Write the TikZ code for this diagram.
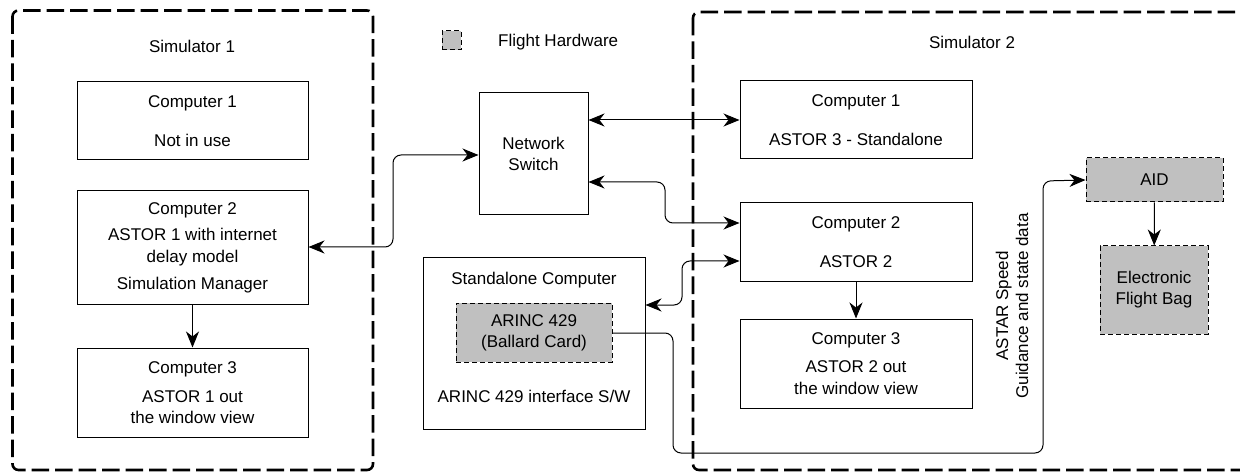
\documentclass[tikz,border=0pt]{standalone}
\usepackage{fontspec}
\setmainfont{Liberation Sans}
\usetikzlibrary{arrows.meta}
\definecolor{hwgray}{HTML}{C0C0C0}
\tikzset{
  box/.style={draw, line width=1pt, inner sep=0pt, align=center, font=\fontsize{17}{21}\selectfont},
  hw/.style={box, fill=hwgray, dash pattern=on 5pt off 3pt},
  sim/.style={draw, line width=2.6pt, dash pattern=on 17.5pt off 6pt, rounded corners=6pt},
  lbl/.style={inner sep=0pt, align=center, font=\fontsize{17}{21}\selectfont},
  conn/.style={line width=1pt, rounded corners=8pt},
  tip/.tip={Stealth[length=16pt,width=13pt,inset=5pt]},
}
\begin{document}
\begin{tikzpicture}[x=1pt,y=-1pt]
\useasboundingbox (0,0) rectangle (1240,473);
\clip (0,0) rectangle (1240,473);
% simulator frames
\draw[sim] (12.5,10.5) rectangle (373,470);
\draw[sim] (693,12) rectangle (1265,470);
\node[lbl] (s1lbl) at (192,46) {Simulator 1};
\node[lbl] (s2lbl) at (972,42) {Simulator 2};
% legend
\node[hw, minimum width=19pt, minimum height=19pt] (leg) at (451.5,40.5) {};
\node[lbl, anchor=west] (legt) at (498,42) {Flight Hardware};
% simulator 1
\node[box, minimum width=231pt, minimum height=78pt] (s1c1) at (192.5,121) {Computer 1\\[18pt]Not in use};
\node[box, minimum width=231pt, minimum height=113pt] (s1c2) at (192.5,247.5) {Computer 2\\[5pt]ASTOR 1 with internet\\[1pt]delay model\\[6pt]Simulation Manager};
\node[box, minimum width=231pt, minimum height=89pt] (s1c3) at (192.5,392.5) {Computer 3\\[8pt]ASTOR 1 out\\the window view};
% switch
\node[box, minimum width=109pt, minimum height=122pt] (sw) at (533.5,154) {Network\\Switch};
% standalone
\node[box, minimum width=222pt, minimum height=171pt] (sa) at (534,343.5) {};
\node[lbl] (sat) at (534,280) {Standalone Computer};
\node[lbl] (sab) at (534,396) {ARINC 429 interface S/W};
\node[hw, minimum width=156pt, minimum height=59pt] (arinc) at (534,332.5) {ARINC 429\\(Ballard Card)};
% simulator 2
\node[box, minimum width=232pt, minimum height=78pt] (s2c1) at (856,120) {Computer 1\\[18pt]ASTOR 3 - Standalone};
\node[box, minimum width=232pt, minimum height=78pt] (s2c2) at (856,242) {Computer 2\\[18pt]ASTOR 2};
\node[box, minimum width=232pt, minimum height=89pt] (s2c3) at (856,363.5) {Computer 3\\[7pt]ASTOR 2 out\\[1pt]the window view};
\node[hw, minimum width=137pt, minimum height=44pt] (aid) at (1154.5,180) {AID};
\node[hw, minimum width=108pt, minimum height=88pt] (efb) at (1154,290) {Electronic\\Flight Bag};
\node[lbl, rotate=90, font=\fontsize{17}{20}\selectfont] (astar) at (1012,306) {ASTAR Speed\\Guidance and state data};
% connectors
\draw[conn, {tip}-{tip}] (s2c1.west -| sw.east) -- (s2c1.west);
\draw[conn, {tip}-{tip}] (sw.east |- 0,182) -| (665,223) -- (s2c2.west |- 0,223);
\draw[conn, {tip}-{tip}] (s1c2.east |- 0,247) -| (393,155) -- (sw.west |- 0,155);
\draw[conn, {tip}-{tip}] (sa.east |- 0,305) -| (682,261) -- (s2c2.west |- 0,261);
\draw[conn, -{tip}] (arinc.east |- 0,333) -| (673,453) -| (1043,181) -- (aid.west);
\draw[conn, -{tip}] (s1c2) -- (s1c3);
\draw[conn, -{tip}] (s2c2) -- (s2c3);
\draw[conn, -{tip}] (aid) -- (efb);
\end{tikzpicture}
\end{document}
